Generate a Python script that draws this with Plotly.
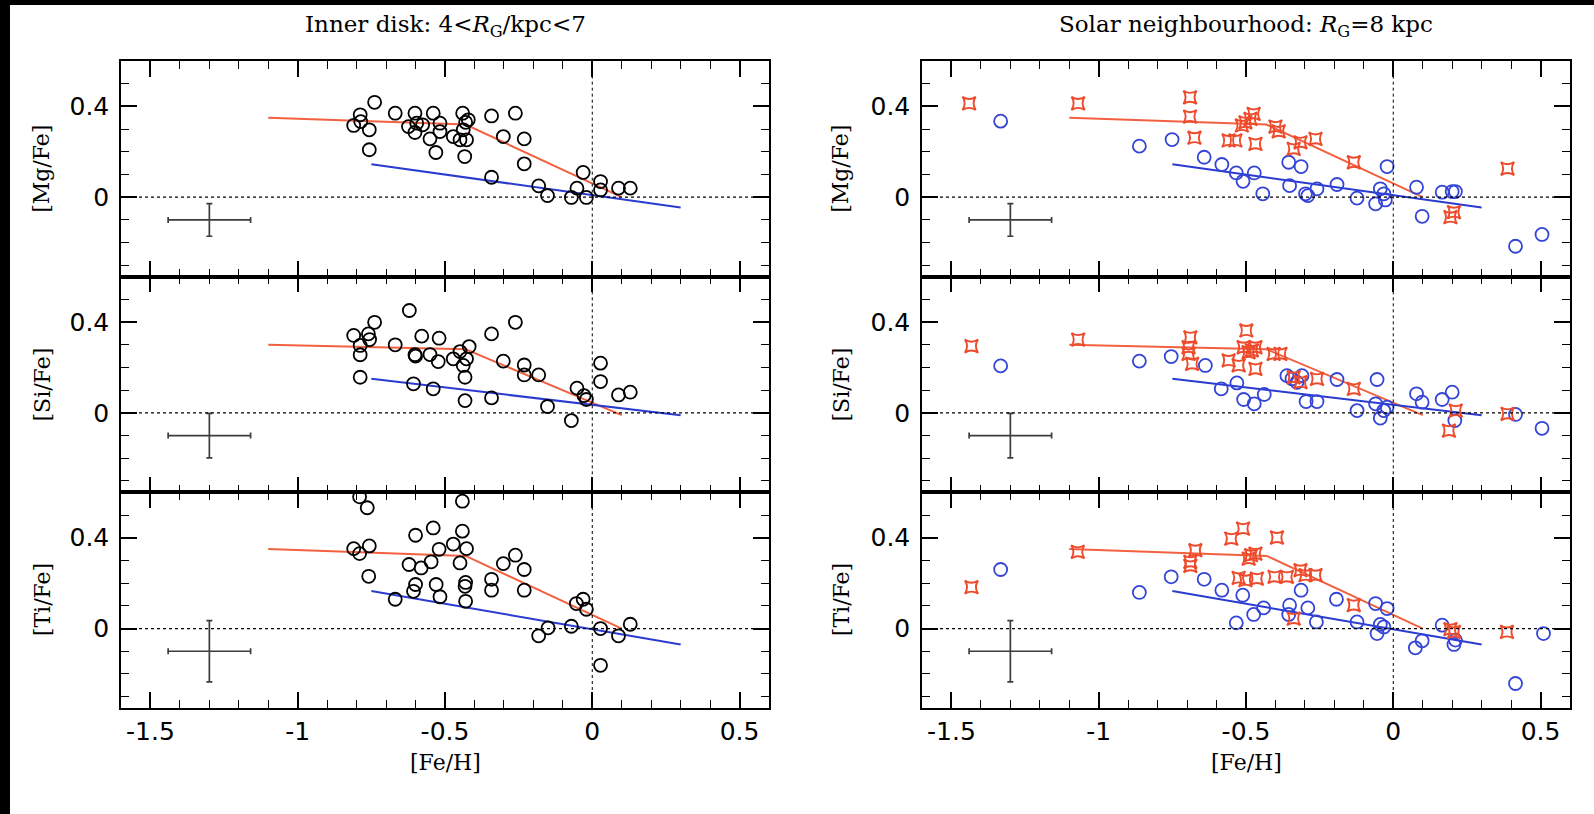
import plotly.graph_objects as go
from plotly.subplots import make_subplots

# ---------------- data ----------------
# Inner disk (4 < R_G/kpc < 7)
inner_mg_feh = [-0.788, -0.81, -0.786, -0.739, -0.757, -0.757, -0.669, -0.602, -0.624, -0.596,
                -0.602, -0.576, -0.54, -0.517, -0.517, -0.551, -0.531, -0.472, -0.44, -0.421,
                -0.438, -0.449, -0.427, -0.433, -0.43, -0.342, -0.261, -0.302, -0.231, -0.231,
                -0.342, -0.182, -0.152, -0.071, -0.052, -0.02, -0.031, 0.028, 0.028, 0.089, 0.129]
inner_mg = [0.363, 0.316, 0.333, 0.418, 0.297, 0.209, 0.37, 0.37, 0.311, 0.326,
            0.285, 0.319, 0.37, 0.326, 0.289, 0.257, 0.197, 0.267, 0.37, 0.341,
            0.297, 0.253, 0.253, 0.179, 0.33, 0.358, 0.37, 0.267, 0.257, 0.147,
            0.088, 0.05, 0.007, -0.001, 0.04, -0.001, 0.109, 0.069, 0.032, 0.04, 0.04]

inner_si_feh = [-0.81, -0.788, -0.788, -0.76, -0.756, -0.739, -0.788, -0.621, -0.669, -0.602,
                -0.60, -0.579, -0.52, -0.551, -0.523, -0.472, -0.449, -0.418, -0.438, -0.432,
                -0.427, -0.607, -0.54, -0.432, -0.342, -0.261, -0.302, -0.231, -0.231, -0.182,
                -0.342, -0.152, -0.071, -0.052, -0.028, -0.02, 0.028, 0.028, 0.089, 0.129]
inner_si = [0.341, 0.297, 0.256, 0.348, 0.323, 0.399, 0.157, 0.451, 0.30, 0.256,
            0.25, 0.338, 0.329, 0.257, 0.226, 0.238, 0.27, 0.292, 0.209, 0.157,
            0.238, 0.128, 0.106, 0.054, 0.348, 0.399, 0.228, 0.211, 0.167, 0.167,
            0.066, 0.028, -0.034, 0.109, 0.076, 0.059, 0.219, 0.138, 0.079, 0.091]

inner_ti_feh = [-0.79, -0.764, -0.441, -0.81, -0.79, -0.757, -0.759, -0.60, -0.54, -0.622,
                -0.581, -0.547, -0.52, -0.472, -0.441, -0.427, -0.449, -0.60, -0.607, -0.53,
                -0.517, -0.669, -0.43, -0.432, -0.43, -0.342, -0.342, -0.302, -0.261, -0.231,
                -0.231, -0.182, -0.15, -0.071, -0.054, -0.031, -0.02, 0.028, 0.028, 0.089, 0.129]
inner_ti = [0.58, 0.532, 0.561, 0.352, 0.33, 0.364, 0.23, 0.411, 0.443, 0.282,
            0.267, 0.294, 0.349, 0.372, 0.429, 0.352, 0.289, 0.194, 0.164, 0.194,
            0.14, 0.129, 0.203, 0.186, 0.12, 0.217, 0.169, 0.286, 0.323, 0.26,
            0.169, -0.032, 0.003, 0.01, 0.11, 0.129, 0.085, 0.0, -0.162, -0.032, 0.019]

# Solar neighbourhood (R_G = 8 kpc): thick disk (red) and thin disk (blue)
sol_mg_thick_feh = [-1.44, -1.07, -0.69, -0.69, -0.675, -0.502, -0.474, -0.485, -0.514, -0.559,
                    -0.536, -0.468, -0.40, -0.389, -0.338, -0.315, -0.264, -0.134, 0.194, 0.206, 0.388]
sol_mg_thick = [0.413, 0.413, 0.44, 0.355, 0.262, 0.33, 0.367, 0.345, 0.316, 0.25,
                0.25, 0.235, 0.311, 0.29, 0.213, 0.242, 0.257, 0.154, -0.088, -0.066, 0.126]
sol_mg_thin_feh = [-1.333, -0.862, -0.751, -0.642, -0.582, -0.533, -0.51, -0.472, -0.443, -0.355,
                   -0.313, -0.352, -0.298, -0.29, -0.259, -0.191, -0.123, -0.06, -0.044, -0.032,
                   -0.027, -0.021, 0.079, 0.098, 0.166, 0.2, 0.211, 0.415, 0.505]
sol_mg_thin = [0.335, 0.225, 0.254, 0.176, 0.144, 0.107, 0.07, 0.107, 0.015, 0.154,
               0.135, 0.051, 0.015, 0.007, 0.037, 0.056, -0.004, -0.029, 0.037, 0.015,
               -0.012, 0.135, 0.044, -0.084, 0.022, 0.025, 0.025, -0.216, -0.164]

sol_si_thick_feh = [-1.432, -1.07, -0.689, -0.695, -0.695, -0.683, -0.499, -0.508, -0.491, -0.48,
                    -0.468, -0.559, -0.525, -0.468, -0.406, -0.383, -0.338, -0.315, -0.259, -0.134,
                    0.212, 0.189, 0.388]
sol_si_thick = [0.294, 0.323, 0.333, 0.289, 0.26, 0.216, 0.363, 0.289, 0.267, 0.275,
                0.289, 0.231, 0.209, 0.194, 0.26, 0.26, 0.157, 0.135, 0.15, 0.106,
                0.01, -0.078, -0.004]
sol_si_thin_feh = [-1.333, -0.862, -0.754, -0.638, -0.584, -0.531, -0.508, -0.472, -0.438, -0.361,
                   -0.344, -0.327, -0.31, -0.296, -0.259, -0.191, -0.123, -0.055, -0.06, -0.044,
                   -0.032, -0.021, 0.079, 0.098, 0.166, 0.2, 0.209, 0.415, 0.505]
sol_si_thin = [0.207, 0.228, 0.248, 0.209, 0.106, 0.132, 0.059, 0.04, 0.081, 0.164,
               0.15, 0.135, 0.164, 0.05, 0.05, 0.147, 0.01, 0.147, 0.04, -0.023,
               0.01, 0.025, 0.084, 0.047, 0.059, 0.091, -0.034, -0.007, -0.068]

sol_ti_thick_feh = [-1.432, -1.071, -0.51, -0.55, -0.395, -0.672, -0.689, -0.689, -0.483, -0.468,
                    -0.491, -0.525, -0.502, -0.463, -0.403, -0.361, -0.315, -0.298, -0.264, -0.338,
                    -0.134, 0.194, 0.206, 0.386]
sol_ti_thick = [0.182, 0.338, 0.44, 0.396, 0.401, 0.345, 0.294, 0.276, 0.323, 0.33,
                0.308, 0.223, 0.213, 0.22, 0.228, 0.228, 0.257, 0.235, 0.235, 0.044,
                0.103, -0.003, -0.015, -0.015]
sol_ti_thin_feh = [-1.333, -0.862, -0.754, -0.642, -0.582, -0.511, -0.533, -0.474, -0.44, -0.352,
                   -0.355, -0.313, -0.29, -0.261, -0.193, -0.123, -0.06, -0.021, -0.044, -0.032,
                   -0.055, 0.075, 0.098, 0.166, 0.206, 0.211, 0.415, 0.51]
sol_ti_thin = [0.26, 0.159, 0.228, 0.217, 0.169, 0.147, 0.025, 0.062, 0.091, 0.103,
               0.062, 0.169, 0.091, 0.029, 0.129, 0.029, 0.11, 0.088, 0.018, 0.007,
               -0.022, -0.085, -0.054, 0.015, -0.07, -0.051, -0.242, -0.022]

# chemical evolution model tracks (thick disk: red, thin disk: blue)
thick_model_feh = [-1.1, -0.43, 0.1]
thick_model = {"Mg": [0.35, 0.32, 0.0], "Si": [0.30, 0.28, -0.01], "Ti": [0.35, 0.32, 0.0]}
thin_model_feh = [-0.75, 0.3]
thin_model = {"Mg": [0.145, -0.045], "Si": [0.15, -0.01], "Ti": [0.165, -0.07]}

# typical uncertainties
err_feh, err_ratio = -1.3, -0.1
err_dfeh = 0.14
err_dratio = {"Mg": 0.072, "Si": 0.098, "Ti": 0.135}

elements = ["Mg", "Si", "Ti"]
y_labels = ["[Mg/Fe]", "[Si/Fe]", "[Ti/Fe]"]
column_titles = ["Inner disk: 4&lt;<i>R</i><sub>G</sub>/kpc&lt;7",
                 "Solar neighbourhood: <i>R</i><sub>G</sub>=8 kpc"]
x_label = "[Fe/H]"
x_tick_vals = [-1.5, -1, -0.5, 0, 0.5]
x_tick_text = ["-1.5", "-1", "-0.5", "0", "0.5"]
y_tick_vals = [0, 0.4]
y_tick_text = ["0", "0.4"]

inner = {"Mg": (inner_mg_feh, inner_mg), "Si": (inner_si_feh, inner_si), "Ti": (inner_ti_feh, inner_ti)}
solar_thick = {"Mg": (sol_mg_thick_feh, sol_mg_thick), "Si": (sol_si_thick_feh, sol_si_thick),
               "Ti": (sol_ti_thick_feh, sol_ti_thick)}
solar_thin = {"Mg": (sol_mg_thin_feh, sol_mg_thin), "Si": (sol_si_thin_feh, sol_si_thin),
              "Ti": (sol_ti_thin_feh, sol_ti_thin)}

# ---------------- styling ----------------
RED = "#ee4a2c"
RED_LINE = "#f2613f"
BLUE = "#3344d6"
BLUE_LINE = "#2a3bd0"
SERIF = "DejaVu Serif, Liberation Serif, serif"
SANS = "DejaVu Sans, Liberation Sans, sans-serif"
TICK_FONT = dict(family=SANS, size=25, color="black")

W, H = 1594, 814
ML, MR, MT, MB = 121, 24, 61, 106
PW, PH = W - ML - MR, H - MT - MB

fig = make_subplots(rows=3, cols=2, horizontal_spacing=153 / PW, vertical_spacing=0)

for r, el in enumerate(elements, start=1):
    for c in (1, 2):
        # model tracks
        fig.add_trace(go.Scatter(x=thick_model_feh, y=thick_model[el], mode="lines",
                                 line=dict(color=RED_LINE, width=2), hoverinfo="skip"), row=r, col=c)
        fig.add_trace(go.Scatter(x=thin_model_feh, y=thin_model[el], mode="lines",
                                 line=dict(color=BLUE_LINE, width=2), hoverinfo="skip"), row=r, col=c)
        # error cross
        fig.add_trace(go.Scatter(
            x=[err_feh], y=[err_ratio], mode="markers",
            marker=dict(size=1, color="rgba(0,0,0,0)"),
            error_x=dict(type="constant", value=err_dfeh, color="#3c3c3c", thickness=1.7, width=3),
            error_y=dict(type="constant", value=err_dratio[el], color="#3c3c3c", thickness=1.7, width=3),
        ), row=r, col=c)
        # dotted solar reference lines
        fig.add_hline(y=0, line=dict(color="black", width=1.3, dash="dot"), row=r, col=c)
        fig.add_vline(x=0, line=dict(color="black", width=1.0, dash="dot"), row=r, col=c)

    fx, fy = inner[el]
    fig.add_trace(go.Scatter(x=fx, y=fy, mode="markers",
                             marker=dict(symbol="circle-open", size=13, color="black",
                                         line=dict(width=1.8, color="black"))), row=r, col=1)
    fx, fy = solar_thin[el]
    fig.add_trace(go.Scatter(x=fx, y=fy, mode="markers",
                             marker=dict(symbol="circle-open", size=13, color=BLUE,
                                         line=dict(width=1.8, color=BLUE))), row=r, col=2)
    fx, fy = solar_thick[el]
    fig.add_trace(go.Scatter(x=fx, y=fy, mode="markers",
                             marker=dict(symbol="star-square-open", size=12, color=RED,
                                         line=dict(width=1.9, color=RED))), row=r, col=2)

axis_common = dict(showline=True, linewidth=1.5, linecolor="black", mirror="allticks",
                   ticks="inside", ticklen=16, tickwidth=1.5, tickcolor="black",
                   showgrid=False, zeroline=False)
minor_common = dict(tickmode="linear", tick0=0, dtick=0.1, ticks="inside", ticklen=8,
                    tickwidth=1.3, tickcolor="black", showgrid=False)

fig.update_xaxes(range=[-1.6, 0.6], tickmode="array", tickvals=x_tick_vals, ticktext=x_tick_text,
                 minor=minor_common, showticklabels=False, tickfont=TICK_FONT, **axis_common)
fig.update_xaxes(showticklabels=True, row=3)
fig.update_yaxes(range=[-0.35, 0.6], tickmode="array", tickvals=y_tick_vals, ticktext=y_tick_text,
                 minor=minor_common, ticklabelstandoff=5, tickfont=TICK_FONT, **axis_common)

annotations = []
col_centers = [(0 + 648 / 2) / PW, (801 + 648 / 2) / PW]
for c, title in enumerate(column_titles):
    annotations.append(dict(text=title, xref="paper", yref="paper", x=col_centers[c],
                            y=(PH + MT - 26) / PH, xanchor="center", yanchor="middle",
                            showarrow=False, font=dict(family=SERIF, size=23, color="black")))
    annotations.append(dict(text=x_label, xref="paper", yref="paper", x=col_centers[c],
                            y=(PH - (762 - MT)) / PH, xanchor="center", yanchor="middle",
                            showarrow=False, font=dict(family=SERIF, size=22, color="black")))
    for r, lab in enumerate(y_labels):
        yc = MT + PH / 6 + r * PH / 3
        xpix = 42 if c == 0 else 841
        annotations.append(dict(text=lab, xref="paper", yref="paper", x=(xpix - ML) / PW,
                                y=(PH + MT - yc) / PH, xanchor="center", yanchor="middle",
                                textangle=-90, showarrow=False,
                                font=dict(family=SERIF, size=22, color="black")))

# dark scanner border along the left and top edges
shapes = [
    dict(type="rect", xref="paper", yref="paper", x0=-ML / PW, x1=(10 - ML) / PW,
         y0=-MB / PH, y1=(PH + MT) / PH, fillcolor="black", line=dict(width=0), layer="above"),
    dict(type="rect", xref="paper", yref="paper", x0=-ML / PW, x1=(W - ML) / PW,
         y0=(PH + MT - 5) / PH, y1=(PH + MT) / PH, fillcolor="black", line=dict(width=0), layer="above"),
]

fig.update_layout(width=W, height=H, margin=dict(l=ML, r=MR, t=MT, b=MB, pad=0),
                  paper_bgcolor="white", plot_bgcolor="white", showlegend=False,
                  annotations=list(fig.layout.annotations) + annotations,
                  shapes=list(fig.layout.shapes) + shapes)

fig.write_html("out.html")
